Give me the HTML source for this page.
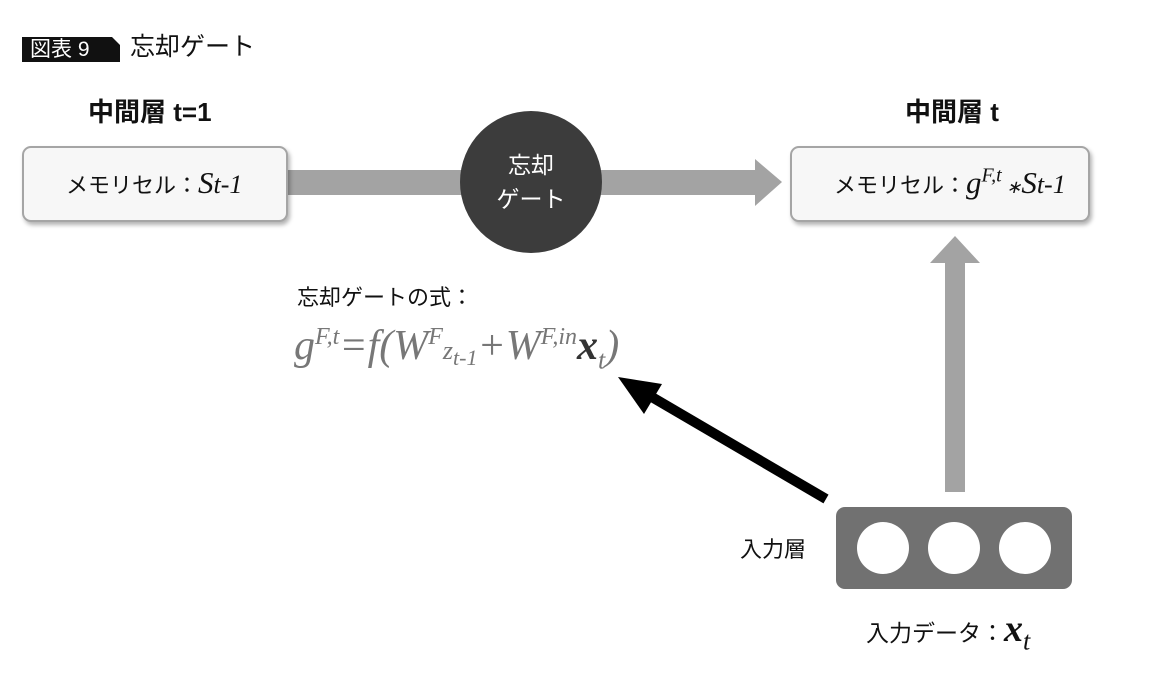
<!DOCTYPE html>
<html><head><meta charset="utf-8"><style>
body{margin:0;width:1170px;height:687px;background:#fff;position:relative;overflow:hidden;font-family:"Liberation Sans","Noto Sans CJK JP",sans-serif;color:#111}
.a{position:absolute;white-space:nowrap}
.box{position:absolute;background:#f7f7f7;border:2px solid #a5a5a5;border-radius:9px;box-shadow:2px 3px 4px rgba(0,0,0,.3)}
.m{font-family:"Liberation Serif",serif;font-style:italic}
sup,sub{line-height:0}
</style></head><body>
<svg class="a" style="left:0;top:0" width="1170" height="687">
<polygon points="22,37 112,37 120,45 120,62 22,62" fill="#111"/>
<rect x="288" y="170" width="175" height="25" fill="#a3a3a3"/>
<rect x="600" y="170" width="157" height="25" fill="#a3a3a3"/>
<polygon points="755,159 782,182 755,206" fill="#a3a3a3"/>
<circle cx="531" cy="182" r="71" fill="#3c3c3c"/>
<rect x="945" y="262" width="20" height="230" fill="#a3a3a3"/>
<polygon points="930,263 955,236 980,263" fill="#a3a3a3"/>
<line x1="826" y1="499" x2="645" y2="393" stroke="#000" stroke-width="10"/>
<polygon points="618,377 662,384 644,414" fill="#000"/>
<rect x="836" y="507" width="236" height="82" rx="9" fill="#717171"/>
<circle cx="883" cy="548" r="26" fill="#fff"/>
<circle cx="954" cy="548" r="26" fill="#fff"/>
<circle cx="1025" cy="548" r="26" fill="#fff"/>
</svg>
<div class="a" style="left:30px;top:37px;font-size:21px;color:#fff;line-height:25px">図表 9</div>
<div class="a" style="left:130px;top:32px;font-size:25px;line-height:30px">忘却ゲート</div>
<div class="a" style="left:88px;top:96px;font-size:26px;font-weight:bold;line-height:32px">中間層 t=1</div>
<div class="a" style="left:905px;top:96px;font-size:26px;font-weight:bold;line-height:32px">中間層 t</div>
<div class="box" style="left:22px;top:146px;width:262px;height:72px"></div>
<div class="a" style="left:66px;top:166px;font-size:22px;line-height:34px">メモリセル：<span class="m" style="font-size:31px">S<span style="font-size:26px">t-1</span></span></div>
<div class="box" style="left:790px;top:146px;width:296px;height:72px"></div>
<div class="a" style="left:834px;top:166px;font-size:22px;line-height:34px">メモリセル：<span class="m" style="font-size:31px">g<sup style="font-size:20px">F,t</sup><span style="font-size:18px"> ∗</span>S<span style="font-size:26px">t-1</span></span></div>
<div class="a" style="left:496px;top:148px;font-size:23px;color:#fff;line-height:34px;text-align:center;width:70px">忘却<br>ゲート</div>
<div class="a" style="left:297px;top:282px;font-size:22px;line-height:32px">忘却ゲートの式：</div>
<div class="a m" style="left:294px;top:322px;font-size:42px;color:#777;line-height:48px">g<sup style="font-size:24px">F,t</sup>=f(W<sup style="font-size:24px">F</sup><span style="font-size:26px">z<sub style="font-size:22px">t-1</sub></span>+W<sup style="font-size:24px">F,in</sup><b style="color:#333">x</b><sub style="font-size:26px">t</sub>)</div>
<div class="a" style="left:740px;top:535px;font-size:22px;line-height:30px">入力層</div>
<div class="a" style="left:866px;top:610px;font-size:23px;line-height:38px">入力データ：<span class="m" style="font-size:38px;font-weight:bold">x<sub style="font-size:26px;font-weight:normal">t</sub></span></div>
</body></html>
